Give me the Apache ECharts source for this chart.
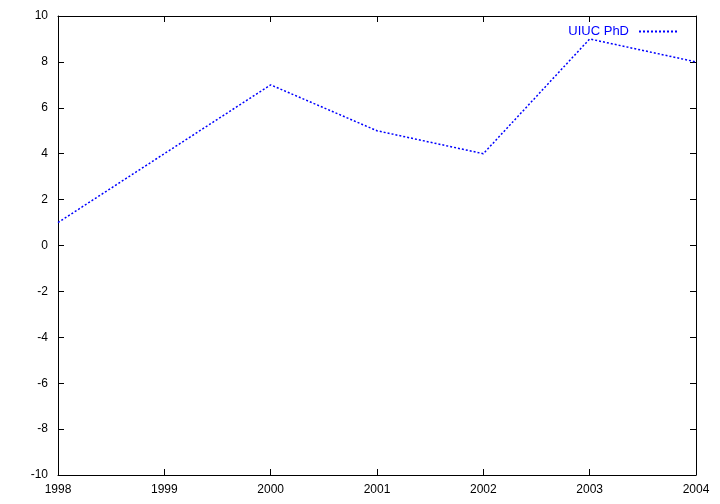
<!DOCTYPE html>
<html>
<head>
<meta charset="utf-8">
<script src="https://cdn.jsdelivr.net/npm/echarts@6/dist/echarts.min.js"></script>
<style>html,body{margin:0;padding:0;background:#fff;}#c{width:720px;height:504px;}</style>
</head>
<body>
<div id="c"></div>
<script>
var years = [1998, 1999, 2000, 2001, 2002, 2003, 2004];
var phd = [1, 4, 7, 5, 4, 9, 8];
var seriesName = 'UIUC PhD';

var chart = echarts.init(document.getElementById('c'), null, {renderer: 'canvas'});
var font = 'Liberation Sans, Arial, sans-serif';
var axisLine = {show: true, onZero: false, lineStyle: {color: '#000', width: 1}};
var tick = {show: true, inside: true, length: 6, lineStyle: {color: '#000', width: 1}};
chart.setOption({
  animation: false,
  backgroundColor: '#fff',
  grid: {left: 58, right: 24, top: 16, bottom: 29, containLabel: false},
  legend: {
    show: true,
    right: 37, top: 20,
    align: 'right',
    itemWidth: 38, itemHeight: 12, itemGap: 8,
    itemStyle: {opacity: 0},
    textStyle: {color: '#0000ff', fontFamily: font, fontSize: 13, padding: [0, 5, 0, 0]},
    data: [seriesName]
  },
  xAxis: [
    {type: 'value', min: 1998, max: 2004, interval: 1, position: 'bottom',
     axisLine: axisLine, axisTick: tick, splitLine: {show: false},
     axisLabel: {color: '#000', fontFamily: font, fontSize: 12, margin: 9, formatter: function(v){return String(v);}}},
    {type: 'value', min: 1998, max: 2004, interval: 1, position: 'top',
     axisLine: axisLine, axisTick: tick, splitLine: {show: false}, axisLabel: {show: false}}
  ],
  yAxis: [
    {type: 'value', min: -10, max: 10, interval: 2, position: 'left',
     axisLine: axisLine, axisTick: tick, splitLine: {show: false},
     axisLabel: {color: '#000', fontFamily: font, fontSize: 12, margin: 10}},
    {type: 'value', min: -10, max: 10, interval: 2, position: 'right',
     axisLine: axisLine, axisTick: tick, splitLine: {show: false}, axisLabel: {show: false}}
  ],
  series: [{
    name: seriesName,
    type: 'line',
    xAxisIndex: 0, yAxisIndex: 0,
    data: years.map(function(y, i){ return [y, phd[i]]; }),
    symbol: 'none',
    lineStyle: {color: '#0000ff', width: 1.5, type: [2, 2]},
    itemStyle: {color: '#0000ff'}
  }]
});
</script>
</body>
</html>
